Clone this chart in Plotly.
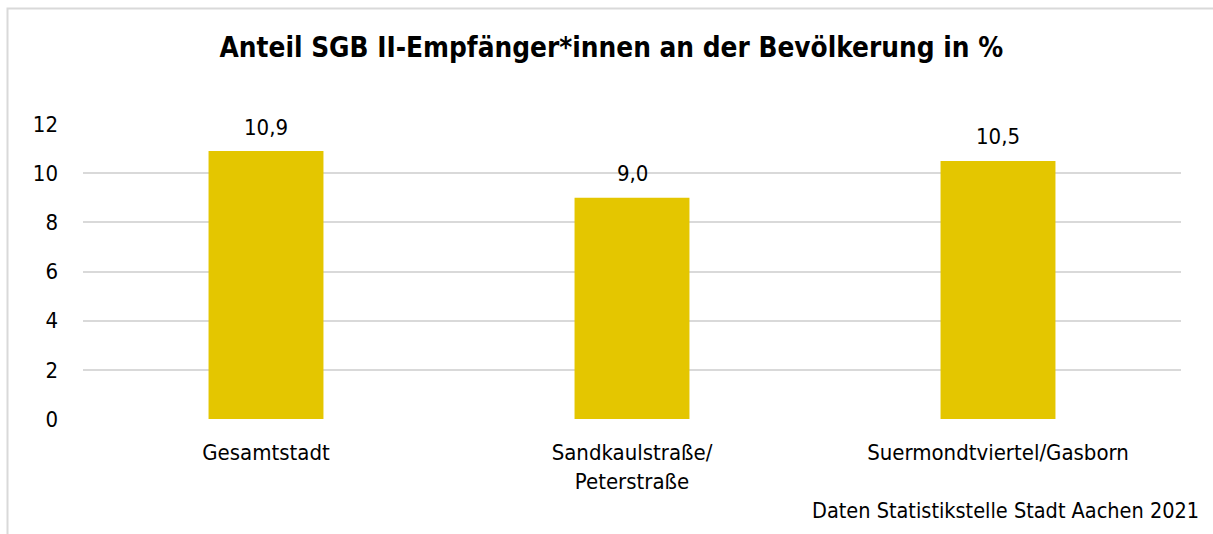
import plotly.graph_objects as go

categories = ["Gesamtstadt", "Sandkaulstraße/<br>Peterstraße", "Suermondtviertel/Gasborn"]
values = [10.9, 9.0, 10.5]
value_labels = ["10,9", "9,0", "10,5"]
y_ticks = [0, 2, 4, 6, 8, 10, 12]

FONT = "DejaVu Sans Condensed, Noto Sans, sans-serif"
FS = 22

fig = go.Figure()
fig.add_trace(go.Bar(
    x=categories, y=values,
    marker=dict(color="#E4C600", line=dict(width=0)),
    width=0.314,
    hoverinfo="skip",
))

L, R, T, B = 83, 32, 124, 115
W, H = 1213, 534
pw = W - L - R
ph = H - T - B

def px_x(px):
    return (px - L) / pw

def px_y(py):
    return (H - B - py) / ph

fig.add_shape(type="rect", xref="paper", yref="paper",
              x0=px_x(7.5), x1=px_x(1230), y0=px_y(560), y1=px_y(8.5),
              line=dict(color="#D9D9D9", width=2), fillcolor="rgba(0,0,0,0)", layer="below")

annotations = [dict(text=t, x=c, y=v, xref="x", yref="y", yshift=24, yanchor="middle",
                    showarrow=False, font=dict(size=FS, color="#000000", family=FONT))
               for c, v, t in zip(categories, values, value_labels)]
annotations.append(dict(text="Daten Statistikstelle Stadt Aachen 2021", xref="paper", yref="paper",
                        x=px_x(1201), y=px_y(510), xanchor="right", yanchor="middle",
                        showarrow=False, font=dict(size=21.5, color="#000000", family=FONT)))

fig.update_layout(
    width=W, height=H,
    margin=dict(l=L, r=R, t=T, b=B),
    paper_bgcolor="white", plot_bgcolor="white",
    title=dict(text="<b>Anteil SGB II-Empfänger*innen an der Bevölkerung in %</b>",
               x=0.504, xanchor="center", y=1 - 47 / H, yanchor="middle",
               font=dict(size=27.7, color="#000000", family=FONT)),
    font=dict(family=FONT, color="#000000", size=FS),
    showlegend=False,
    bargap=0.686,
    xaxis=dict(showgrid=False, showline=False, ticks="", ticklabelstandoff=18,
               tickfont=dict(size=FS, color="#000000"), automargin=False),
    yaxis=dict(range=[0, 12], tickvals=y_ticks, ticktext=[str(v) for v in y_ticks],
               showgrid=True, gridcolor="#D9D9D9", gridwidth=2, zeroline=False,
               showline=False, ticks="", ticklabelstandoff=24,
               tickfont=dict(size=FS, color="#000000"), automargin=False),
    annotations=annotations,
)

fig.write_html("out.html", config={"displayModeBar": False},
               post_script="document.body.style.margin='0';document.body.style.padding='0';")
